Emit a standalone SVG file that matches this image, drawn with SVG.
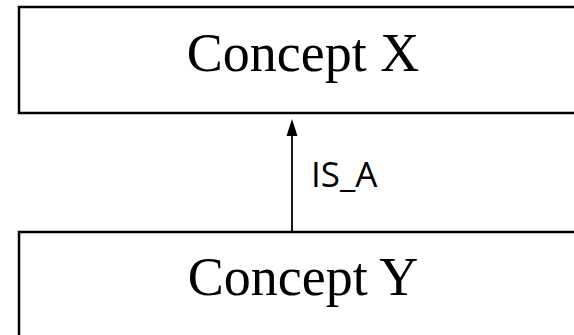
<svg xmlns="http://www.w3.org/2000/svg" width="574" height="335" viewBox="0 0 574 335">
<style>
.box{fill:#fff;stroke:#000;stroke-width:2.5}
.concept{font-family:"Liberation Serif","Times New Roman",serif;font-size:54px;fill:#000;text-anchor:middle}
.lbl{font-family:"Open Sans","Liberation Sans",sans-serif;font-size:35px;fill:#000}
</style>
<rect width="574" height="335" fill="#fff"/>
<g id="conceptX">
<rect class="box" x="19" y="7" width="570" height="106"/>
<text class="concept" x="303" y="71">Concept X</text>
</g>
<g id="conceptY">
<rect class="box" x="19" y="232" width="570" height="120"/>
<text class="concept" x="303" y="295">Concept Y</text>
</g>
<g id="connectors">
<line x1="292" y1="232" x2="292" y2="135" stroke="#000" stroke-width="1.8"/>
<path d="M286.5,136 L292,119 L297.5,136 Z" fill="#000"/>
<text class="lbl" x="311" y="187">IS_A</text>
</g>
</svg>
